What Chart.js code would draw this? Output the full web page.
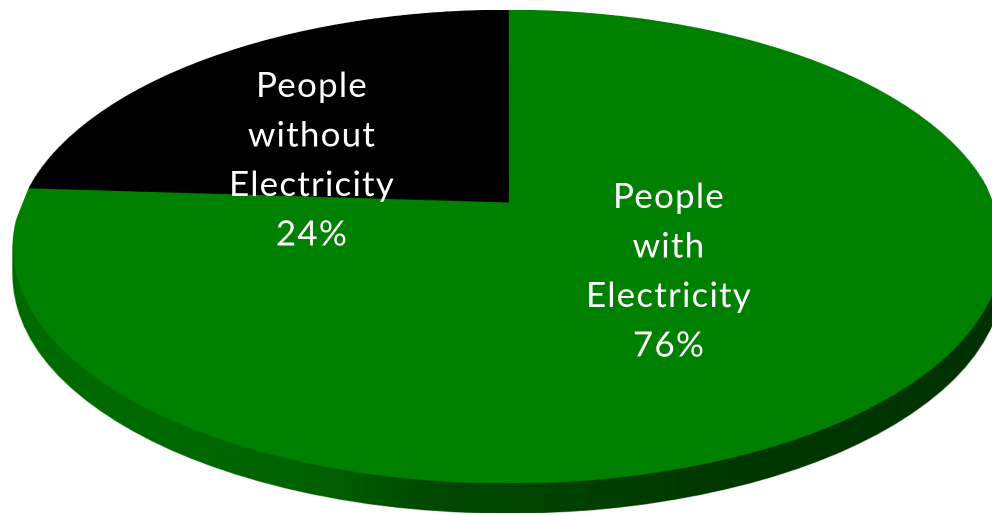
<!DOCTYPE html>
<html lang="en">
<head>
    <meta charset="UTF-8">
    <title>People with / without Electricity</title>
    <script src="https://cdn.jsdelivr.net/npm/chart.js"></script>
    <style>
        html, body { margin: 0; padding: 0; background: #fff; }
        canvas { display: block; }
    </style>
</head>
<body>
    <canvas id="pieChart" width="992" height="515"></canvas>

    <script>
        // chart data
        var categories = ['People with Electricity', 'People without Electricity'];
        var shares = [76, 24];
        var labelWords = [['People', 'with', 'Electricity'], ['People', 'without', 'Electricity']];
        var sliceColors = ['#008000', '#000000'];

        // tilted view of the disk (perspective along the vertical axis)
        var view = { x0: 508, a: 190.1, b: 202, c: -0.188, S: 485, depth: 30 };
        // where the text block of each slice sits (first baseline)
        var labelBox = [{ x: 669, y: 208 }, { x: 312, y: 97 }];
        var lineGap = 49.5;

        function vAt(y) {
            return (view.b - y) / (y * view.c - view.a);
        }

        var perspective = {
            id: 'perspective',
            afterDatasetsDraw: function(chart) {
                var arc = chart.getDatasetMeta(0).data[0];
                var cx = arc.x, cy = arc.y, r = arc.outerRadius;
                var dpr = chart.currentDevicePixelRatio;
                var W = chart.canvas.width, H = chart.canvas.height;

                var src = document.createElement('canvas');
                src.width = W; src.height = H;
                src.getContext('2d').drawImage(chart.canvas, 0, 0);

                // warp the flat pie into the tilted top face, row by row
                var face = document.createElement('canvas');
                face.width = W; face.height = H;
                var fctx = face.getContext('2d');
                for (var Y = 0; Y < H; Y++) {
                    var v0 = vAt(Y / dpr), v1 = vAt((Y + 1) / dpr);
                    if (v1 < -1 || v0 > 1) continue;
                    v0 = Math.max(-1, v0); v1 = Math.min(1, v1);
                    var vm = (v0 + v1) / 2;
                    var s = view.S / (1 + view.c * vm);
                    fctx.drawImage(src,
                        (cx - r) * dpr, (cy + v0 * r) * dpr, 2 * r * dpr, Math.max(0.01, (v1 - v0) * r * dpr),
                        (view.x0 - s) * dpr, Y, 2 * s * dpr, 1);
                }

                // darker copy for the side wall (lit from the left)
                var side = document.createElement('canvas');
                side.width = W; side.height = H;
                var sctx = side.getContext('2d');
                sctx.drawImage(face, 0, 0);
                sctx.globalCompositeOperation = 'source-atop';
                var g = sctx.createLinearGradient(0, 0, W, 0);
                g.addColorStop(0, 'rgba(0,0,0,0.15)');
                g.addColorStop(170 / 992, 'rgba(0,0,0,0.17)');
                g.addColorStop(330 / 992, 'rgba(0,0,0,0.25)');
                g.addColorStop(430 / 992, 'rgba(0,0,0,0.43)');
                g.addColorStop(700 / 992, 'rgba(0,0,0,0.55)');
                g.addColorStop(1, 'rgba(0,0,0,0.6)');
                sctx.fillStyle = g;
                sctx.fillRect(0, 0, W, H);

                var ctx = chart.ctx;
                ctx.save();
                ctx.setTransform(1, 0, 0, 1, 0, 0);
                ctx.clearRect(0, 0, W, H);
                for (var d = Math.round(view.depth * dpr); d >= 1; d--) {
                    ctx.drawImage(side, 0, d);
                }
                ctx.drawImage(face, 0, 0);
                ctx.restore();

                // slice labels
                ctx.save();
                ctx.fillStyle = '#ffffff';
                ctx.font = '35px Lato';
                ctx.letterSpacing = '1.2px';
                ctx.textAlign = 'center';
                ctx.textBaseline = 'alphabetic';
                shares.forEach(function(val, i) {
                    var lines = labelWords[i].concat([val + '%']);
                    lines.forEach(function(t, k) {
                        ctx.fillText(t, labelBox[i].x, labelBox[i].y + k * lineGap);
                    });
                });
                ctx.restore();
            }
        };

        var ctx = document.getElementById('pieChart').getContext('2d');
        var pieChart = new Chart(ctx, {
            type: 'pie',
            data: {
                labels: categories,
                datasets: [{
                    data: shares,
                    backgroundColor: sliceColors,
                    borderColor: sliceColors,
                    borderWidth: 1
                }]
            },
            options: {
                responsive: false,
                animation: false,
                devicePixelRatio: 2,
                layout: { padding: 0 },
                events: [],
                plugins: {
                    legend: { display: false },
                    tooltip: { enabled: false }
                }
            },
            plugins: [perspective]
        });
    </script>
</body>
</html>
